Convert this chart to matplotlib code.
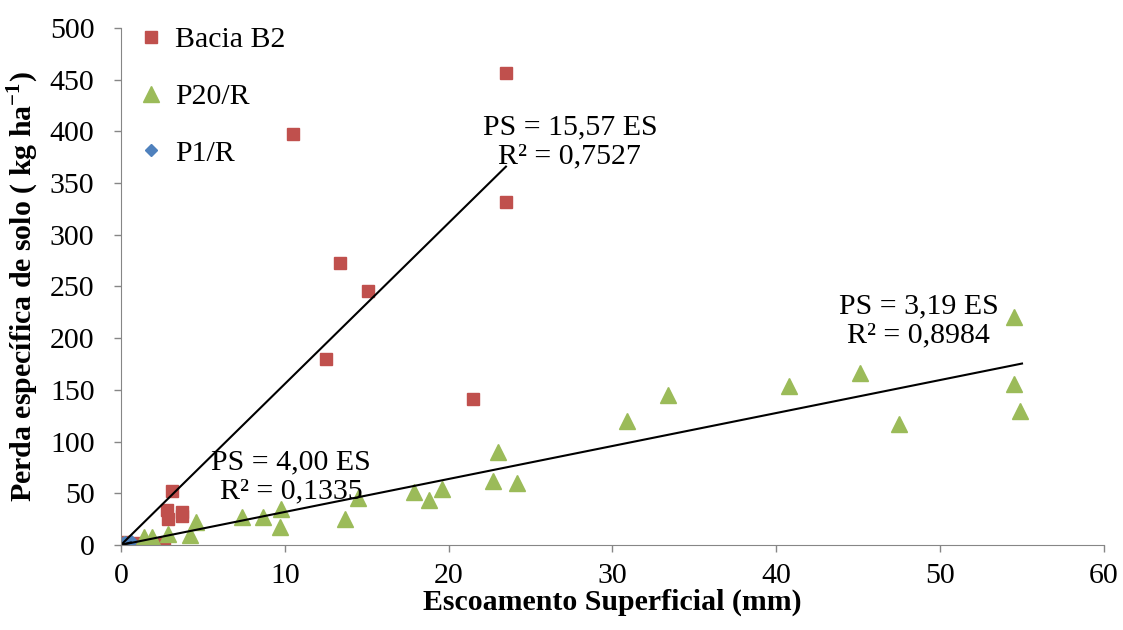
import matplotlib

matplotlib.use("Agg")
import matplotlib.pyplot as plt  # noqa: E402
import numpy as np  # noqa: E402

plt.rcParams["font.family"] = ["Liberation Serif", "DejaVu Serif"]
plt.rcParams["mathtext.fontset"] = "custom"
plt.rcParams["mathtext.rm"] = "Liberation Serif"
plt.rcParams["mathtext.bf"] = "Liberation Serif:bold"

# Bacia B2
b2_x = [23.5, 10.5, 23.5, 13.4, 15.1, 12.5, 21.5, 3.1, 2.8, 3.7, 3.7, 2.9, 2.6, 0.3, 0.8, 1.5, 0.1]
b2_y = [456, 397, 332, 273, 246, 180, 141, 52, 34, 32, 28, 25, 2, 3, 2, 1, 1]
# P20/R
p20_x = [54.5, 45.1, 40.8, 33.4, 30.9, 54.5, 54.9, 47.5, 23.0, 22.7, 24.2, 19.6, 17.9,
         18.8, 14.5, 13.7, 9.8, 9.7, 8.7, 7.4, 4.6, 4.2, 2.9, 1.9, 1.4, 0.5, 0.2]
p20_y = [220, 166, 154, 145, 120, 156, 130, 117, 90, 62, 60, 54, 51,
         43, 45, 25, 35, 17, 27, 27, 22, 10, 11, 8, 8, 2, 1]
# P1/R
p1_x = [0.05, 0.1, 0.2, 0.25, 0.3, 0.4, 0.5, 0.6]
p1_y = [0.5, 2, 1, 3, 0.5, 2, 1, 4]

# trendlines through origin: slope, end x, label, label position
fits = {
    "b2": (15.57, 23.5, "PS = 15,57 ES\nR² = 0,7527", 27.4, 390),
    "p20": (3.19, 55.0, "PS = 3,19 ES\nR² = 0,8984", 48.7, 217),
    "p1": (4.00, 0.6, "PS = 4,00 ES\nR² = 0,1335", 10.4, 66),
}

FS = 21.5

fig = plt.figure(figsize=(11.23, 6.3), dpi=100)
ax = fig.add_axes([0.1077, 0.135, 0.8753, 0.8206])

ax.plot(b2_x, b2_y, "s", color="#C0504D", ms=8.5, ls="none", label="Bacia B2")
ax.plot(p20_x, p20_y, "^", color="#9BBB59", ms=11, ls="none", label="P20/R")
ax.plot(p1_x, p1_y, "D", color="#4F81BD", ms=6.5, ls="none", label="P1/R")

for slope, xend, txt, tx, ty in fits.values():
    xs = np.array([0, xend])
    ax.plot(xs, slope * xs, color="black", lw=1.5)
    ax.text(tx, ty, txt, ha="center", va="center", fontsize=FS, linespacing=1.15)

ax.set_xlim(0, 60)
ax.set_ylim(0, 500)
ax.set_xticks(range(0, 61, 10))
ax.set_yticks(range(0, 501, 50))
ax.tick_params(labelsize=FS, direction="out", length=5, color="#868686", width=1)
ax.tick_params(axis="y", pad=14)
ax.tick_params(axis="x", pad=8)
for side in ["top", "right"]:
    ax.spines[side].set_visible(False)
for side in ["left", "bottom"]:
    ax.spines[side].set_color("#868686")
ax.set_xlabel("Escoamento Superficial (mm)", fontsize=FS, fontweight="bold", labelpad=0)
ax.set_ylabel(r"Perda específica de solo ( kg ha$^{\mathbf{-1}}$)", fontsize=FS,
              fontweight="bold", labelpad=6)

ax.legend(loc="upper left", bbox_to_anchor=(-0.012, 1.055), frameon=False, fontsize=FS,
          labelspacing=1.0, handletextpad=0.3, handlelength=1.0, borderaxespad=0.5)

fig.savefig("out.png", dpi=100)
plt.close(fig)
